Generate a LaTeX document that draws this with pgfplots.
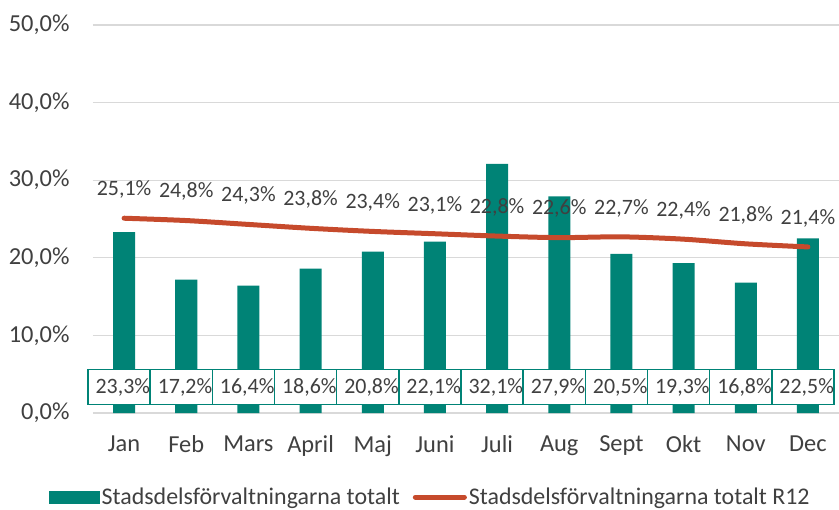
\documentclass[border=0pt]{standalone}
\usepackage{fontspec}
\setmainfont{Carlito}
\usepackage{pgfplots}
\usepackage{pgfplotstable}
\pgfplotsset{compat=1.18}
\definecolor{barteal}{RGB}{0,131,118}
\definecolor{linered}{RGB}{198,74,44}
\definecolor{gridgray}{RGB}{217,217,217}
\definecolor{txtgray}{RGB}{64,64,64}

% monthly value and rolling 12-month value
\pgfplotstableread{
x bar line
0 23.3 25.1
1 17.2 24.8
2 16.4 24.3
3 18.6 23.8
4 20.8 23.4
5 22.1 23.1
6 32.1 22.8
7 27.9 22.6
8 20.5 22.7
9 19.3 22.4
10 16.8 21.8
11 22.5 21.4
}\data

\newcommand{\lbl}{\fontsize{24.5}{28}\selectfont}
\newcommand{\dlbl}{\fontsize{22}{26}\selectfont}

\begin{document}
\begin{tikzpicture}
\path[use as bounding box] (-93bp,-97bp) rectangle (746bp,413bp);
\begin{axis}[
    scale only axis, width=746bp, height=388bp,
    xmin=-0.5, xmax=11.5, ymin=0, ymax=50,
    ytick={0,10,...,50},
    yticklabels={{0,0\%},{10,0\%},{20,0\%},{30,0\%},{40,0\%},{50,0\%}},
    xtick={0,...,11},
    xticklabels={Jan,Feb,Mars,April,Maj,Juni,Juli,Aug,Sept,Okt,Nov,Dec},
    /pgf/number format/assume math mode=true,
    ymajorgrids, grid style={gridgray, line width=1.3bp},
    axis line style={draw=none}, tick style={draw=none},
    tick label style={font=\lbl, text=txtgray},
    yticklabel style={xshift=-20bp},
    xticklabel style={yshift=-19bp},
    legend columns=2,
    legend style={at={(0.452,-0.2165)}, anchor=center, draw=none, fill=none,
        font=\fontsize{24}{28}\selectfont, text=txtgray,
        /tikz/every even column/.append style={column sep=11bp}},
]
\addplot[ybar, bar width=22bp, fill=barteal, draw=none,
    legend image code/.code={\fill[barteal] (0bp,-6.5bp) rectangle (51bp,6.5bp);}]
    table[x=x, y=bar] {\data};
\addlegendentry{Stadsdelsförvaltningarna totalt}
\addplot[linered, line width=5bp, line cap=round, smooth, mark=none,
    legend image code/.code={\draw[linered, line width=5bp, line cap=round] (2bp,0bp) -- (51bp,0bp);},
    point meta=explicit,
    nodes near coords={\pgfmathprintnumber[fixed,fixed zerofill,precision=1,use comma]{\pgfplotspointmeta}\%},
    nodes near coords style={font=\dlbl, text=txtgray, anchor=south, yshift=14bp}]
    table[x=x, y=line, meta=line] {\data};
\addlegendentry{Stadsdelsförvaltningarna totalt R12}
\addplot[draw=none, mark=none, forget plot,
    point meta=explicit,
    nodes near coords={\pgfmathprintnumber[fixed,fixed zerofill,precision=1,use comma]{\pgfplotspointmeta}\%},
    nodes near coords style={font=\dlbl, text=txtgray, anchor=center,
        draw=barteal, line width=1.3bp, fill=white, inner xsep=0bp,
        text width=62bp, align=right, minimum height=35bp, xshift=-5bp}]
    table[x=x, y expr=3.35, meta=bar] {\data};
\end{axis}
\end{tikzpicture}
\end{document}
